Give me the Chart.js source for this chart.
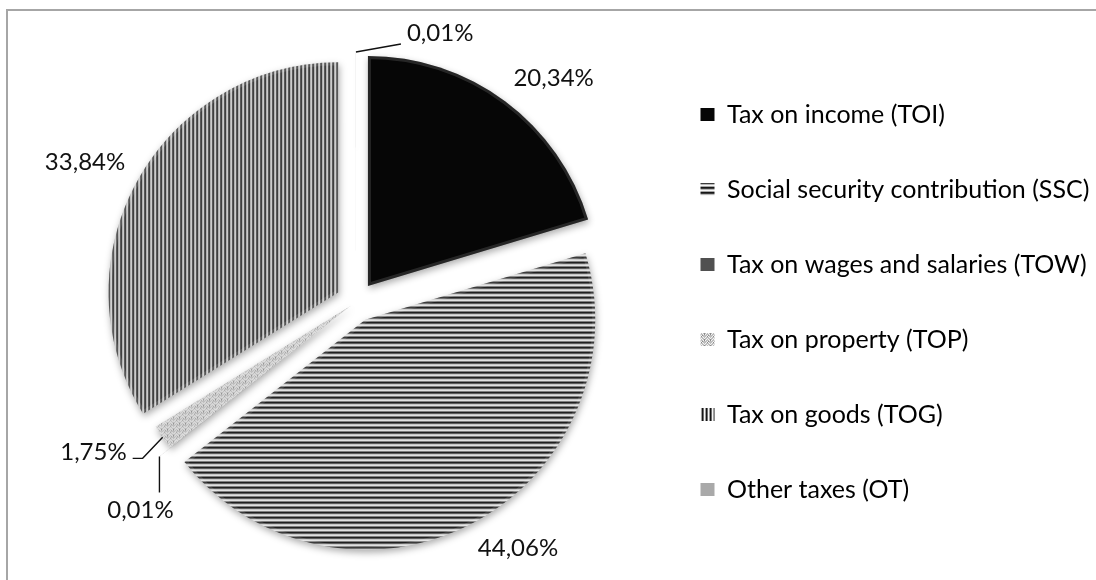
<!DOCTYPE html>
<html>
<head>
<meta charset="utf-8">
<script src="https://cdn.jsdelivr.net/npm/chart.js"></script>
<style>
  html, body { margin: 0; padding: 0; background: #fff; overflow: hidden; }
  #wrap { position: relative; width: 1096px; height: 580px; overflow: hidden; }
  #frame { position: absolute; left: 6px; top: 9px; width: 1200px; height: 700px;
           border-top: 2px solid #a6a6a6; border-left: 2px solid #a6a6a6; }
  #chart { position: absolute; left: 0; top: 0; }
</style>
</head>
<body>
<div id="wrap">
  <div id="frame"></div>
  <canvas id="chart" width="1096" height="580"></canvas>
</div>
<script>
const categories = [
  'Tax on income (TOI)',
  'Social security contribution (SSC)',
  'Tax on wages and salaries (TOW)',
  'Tax on property (TOP)',
  'Tax on goods (TOG)',
  'Other taxes (OT)'
];
const shares = [20.34, 44.06, 0.01, 1.75, 33.84, 0.01];

const FONT = 'Lato, "Open Sans", sans-serif';
const ctx = document.getElementById('chart');

// small repeating tiles used as slice fills
function tile(w, h, paint) {
  const c = document.createElement('canvas');
  c.width = w; c.height = h;
  paint(c.getContext('2d'));
  return ctx.getContext('2d').createPattern(c, 'repeat');
}
const hStripes = tile(1, 5, g => {
  ['#f6f6f6', '#a4a4a4', '#161616', '#3c3c3c', '#b8b8b8'].forEach((c, i) => {
    g.fillStyle = c; g.fillRect(0, i, 1, 1);
  });
});
const vStripes = tile(4, 1, g => {
  ['#f6f6f6', '#9c9c9c', '#141414', '#6e6e6e'].forEach((c, i) => {
    g.fillStyle = c; g.fillRect(i, 0, 1, 1);
  });
});
const weave = tile(6, 6, g => {
  g.fillStyle = '#bdbdbd'; g.fillRect(0, 0, 6, 6);
  g.fillStyle = '#f4f4f4';
  [[0,0],[1,1],[2,2],[3,1],[4,0],[5,5],[0,3],[1,4],[3,4],[4,3],[5,2]].forEach(([x, y]) => g.fillRect(x, y, 1, 1));
  g.fillStyle = '#8a8a8a';
  [[2,3],[2,4],[5,0],[0,5]].forEach(([x, y]) => g.fillRect(x, y, 1, 1));
});

// arc that is pushed out by its full offset, without growing its radius
class ExplodedArc extends Chart.ArcElement {
  static id = 'explodedArc';
  draw(c) {
    const {x, y, startAngle, endAngle, outerRadius, options} = this;
    if (!(endAngle > startAngle)) return;
    const mid = (startAngle + endAngle) / 2;
    const off = options.offset || 0;
    c.save();
    c.translate(x + Math.cos(mid) * off, y + Math.sin(mid) * off);
    c.beginPath();
    c.moveTo(0, 0);
    c.arc(0, 0, outerRadius, startAngle, endAngle);
    c.closePath();
    c.shadowColor = 'rgba(0,0,0,0.32)';
    c.shadowBlur = 7;
    c.shadowOffsetX = 1;
    c.shadowOffsetY = 3;
    c.fillStyle = options.backgroundColor;
    c.fill();
    // soft bevel along the rim
    c.shadowColor = 'transparent';
    c.clip();
    c.lineWidth = 6;
    c.strokeStyle = 'rgba(255,255,255,0.13)';
    c.stroke();
    c.restore();
  }
}
class ExplodedPie extends Chart.PieController {
  static id = 'explodedPie';
  static defaults = { dataElementType: 'explodedArc' };
}
Chart.register(ExplodedArc, ExplodedPie);

// percentage labels, with leader lines for the thin slices
const sliceLabels = {
  id: 'sliceLabels',
  afterDatasetsDraw(chart, args, opts) {
    const c = chart.ctx;
    const meta = chart.getDatasetMeta(0);
    c.save();
    c.font = opts.size + 'px ' + FONT;
    c.fillStyle = '#111';
    c.strokeStyle = '#111';
    c.lineWidth = 1.4;
    c.textBaseline = 'middle';
    meta.data.forEach((arc, i) => {
      const mid = (arc.startAngle + arc.endAngle) / 2;
      const dx = Math.cos(mid), dy = Math.sin(mid);
      const r = arc.outerRadius + (arc.options.offset || 0);
      const px = arc.x + dx * r, py = arc.y + dy * r;
      const text = shares[i].toFixed(2).replace('.', ',') + '%';
      const lead = opts.leaders[i];
      if (lead) {
        let lx = px, ly = py;
        c.beginPath();
        c.moveTo(lx, ly);
        lead.path.forEach(([ax, ay]) => { lx += ax; ly += ay; c.lineTo(lx, ly); });
        c.stroke();
        c.textAlign = lead.align;
        c.fillText(text, lx + lead.text[0], ly + lead.text[1]);
      } else {
        const w = c.measureText(text).width;
        c.textAlign = 'center';
        c.fillText(text,
          px + dx * opts.gap + Math.sign(dx) * w / 2,
          py + dy * opts.gap + Math.sign(dy) * opts.size / 2);
      }
    });
    c.restore();
  }
};

// legend geometry
const legendSize = 25, legendPad = 50, legendBox = 14;
const legendLeft = 650.5;
const centerX = 356;
const meter = document.createElement('canvas').getContext('2d');
meter.font = legendSize + 'px ' + FONT;
const widest = Math.max(...categories.map(t => meter.measureText(t).width));
const legendWidth = legendPad + legendBox + legendSize / 2 + widest + 10;

new Chart(ctx, {
  type: 'explodedPie',
  data: {
    labels: categories,
    datasets: [{
      data: shares,
      backgroundColor: ['#060606', hStripes, '#505050', weave, vStripes, '#a9a9a9'],
      borderWidth: 0,
      offset: [20, 20, 20, 6, 20, 20]
    }]
  },
  plugins: [sliceLabels],
  options: {
    responsive: false,
    animation: false,
    events: [],
    radius: 230,
    layout: {
      padding: {
        left: 2 * centerX - legendLeft,
        right: 1096 - legendLeft - legendWidth,
        top: 24,
        bottom: 0
      }
    },
    plugins: {
      tooltip: { enabled: false },
      legend: {
        position: 'right',
        align: 'center',
        labels: {
          boxWidth: legendBox,
          boxHeight: 13,
          padding: legendPad,
          color: '#000',
          font: { family: FONT, size: legendSize }
        }
      },
      sliceLabels: {
        size: 24,
        gap: 14,
        leaders: {
          2: { path: [[0, 36]], align: 'center', text: [-19, 18] },
          3: { path: [[-20, 21], [-10, 0]], align: 'right', text: [-6, -6] },
          5: { path: [[45, -8]], align: 'left', text: [6, -11] }
        }
      }
    }
  }
});
</script>
</body>
</html>
